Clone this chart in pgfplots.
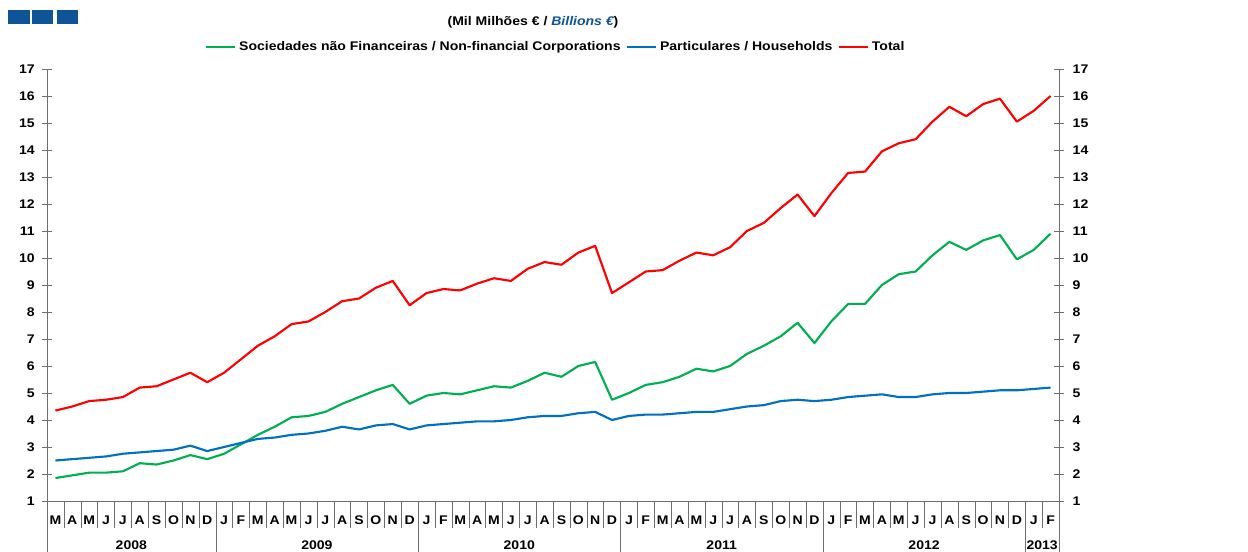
\documentclass[border=0pt]{standalone}
\usepackage{pgfplots}
\usepackage{pgfplotstable}
\pgfplotsset{compat=1.18}
\usepackage{fontspec}
\setmainfont{Liberation Sans}
\newfontfamily\wfont[FakeStretch=1.12]{Liberation Sans}
\definecolor{cgreen}{RGB}{0,176,80}
\definecolor{cblue}{RGB}{0,112,192}
\definecolor{cred}{RGB}{255,0,0}
\definecolor{clogo}{RGB}{14,84,150}
\definecolor{caxis}{RGB}{110,110,110}

\pgfplotstableread{
i nfc hh tot
0 1.85 2.50 4.35
1 1.95 2.55 4.50
2 2.05 2.60 4.70
3 2.05 2.65 4.75
4 2.10 2.75 4.85
5 2.40 2.80 5.20
6 2.35 2.85 5.25
7 2.50 2.90 5.50
8 2.70 3.05 5.75
9 2.55 2.85 5.40
10 2.75 3.00 5.75
11 3.10 3.15 6.25
12 3.45 3.30 6.75
13 3.75 3.35 7.10
14 4.10 3.45 7.55
15 4.15 3.50 7.65
16 4.30 3.60 8.00
17 4.60 3.75 8.40
18 4.85 3.65 8.50
19 5.10 3.80 8.90
20 5.30 3.85 9.15
21 4.60 3.65 8.25
22 4.90 3.80 8.70
23 5.00 3.85 8.85
24 4.95 3.90 8.80
25 5.10 3.95 9.05
26 5.25 3.95 9.25
27 5.20 4.00 9.15
28 5.45 4.10 9.60
29 5.75 4.15 9.85
30 5.60 4.15 9.75
31 6.00 4.25 10.20
32 6.15 4.30 10.45
33 4.75 4.00 8.70
34 5.00 4.15 9.10
35 5.30 4.20 9.50
36 5.40 4.20 9.55
37 5.60 4.25 9.90
38 5.90 4.30 10.20
39 5.80 4.30 10.10
40 6.00 4.40 10.40
41 6.45 4.50 11.00
42 6.75 4.55 11.30
43 7.10 4.70 11.85
44 7.60 4.75 12.35
45 6.85 4.70 11.55
46 7.65 4.75 12.40
47 8.30 4.85 13.15
48 8.30 4.90 13.20
49 9.00 4.95 13.95
50 9.40 4.85 14.25
51 9.50 4.85 14.40
52 10.10 4.95 15.05
53 10.60 5.00 15.60
54 10.30 5.00 15.25
55 10.65 5.05 15.70
56 10.85 5.10 15.90
57 9.95 5.10 15.05
58 10.30 5.15 15.45
59 10.90 5.20 16.00
}\datatable

\newcommand{\lfont}{\wfont\bfseries\fontsize{9.4}{11}\selectfont}

\begin{document}
\begin{tikzpicture}
\useasboundingbox (0pt,0pt) rectangle (936pt,414pt);
% logo
\fill[clogo] (6pt,396pt) rectangle (22.5pt,406.5pt);
\fill[clogo] (24pt,396pt) rectangle (39.75pt,406.5pt);
\fill[clogo] (42.75pt,396pt) rectangle (58.5pt,406.5pt);
\node[font=\lfont, inner sep=0pt] at (399.75pt,397.5pt) {(Mil Milhões € / \textcolor{clogo}{\itshape Billions €})};

\begin{axis}[
  at={(35.25pt,38.25pt)}, anchor=south west,
  scale only axis, width=759pt, height=324pt,
  xmin=-0.5, xmax=59.5, ymin=1, ymax=17,
  axis x line*=bottom, axis y line*=left,
  axis line style={draw=caxis, -},
  clip=false,
  ytick={1,...,17},
  ytick style={draw=caxis},
  tick align=center,
  major tick length=7.5pt,
  yticklabel style={font=\lfont, /pgf/number format/assume math mode=true, xshift=-2pt},
  xtick={0,...,59},
  xticklabels={M,A,M,J,J,A,S,O,N,D,J,F,M,A,M,J,J,A,S,O,N,D,J,F,M,A,M,J,J,A,S,O,N,D,J,F,M,A,M,J,J,A,S,O,N,D,J,F,M,A,M,J,J,A,S,O,N,D,J,F},
  xtick style={draw=none},
  xticklabel style={font=\lfont, anchor=center, yshift=-10.5pt},
  minor xtick={-0.5,0.5,...,59.5},
  minor x tick style={draw=caxis, yshift=-10pt},
  minor tick length=20pt,
  extra x ticks={-0.5,9.5,21.5,33.5,45.5,57.5,59.5},
  extra x tick labels={},
  extra x tick style={xtick style={draw=caxis, yshift=-19.5pt}, major tick length=39pt},
  legend style={at={(0.503,1.05)}, anchor=center, draw=none, fill=none, font=\lfont, legend columns=-1,
    /tikz/every even column/.append style={column sep=2pt}, inner sep=0pt},
  legend image code/.code={\draw[#1] (0pt,0pt) -- (22pt,0pt);},
  every axis plot/.append style={line width=1.6pt, line join=round},
]
\addplot[cgreen] table[x=i, y=nfc] {\datatable};
\addlegendentry{Sociedades não Financeiras / Non-financial Corporations}
\addplot[cblue] table[x=i, y=hh] {\datatable};
\addlegendentry{Particulares / Households}
\addplot[cred] table[x=i, y=tot] {\datatable};
\addlegendentry{Total}
\node[font=\lfont] at (axis cs:4.5,1) [yshift=-33.5pt] {2008};
\node[font=\lfont] at (axis cs:15.5,1) [yshift=-33.5pt] {2009};
\node[font=\lfont] at (axis cs:27.5,1) [yshift=-33.5pt] {2010};
\node[font=\lfont] at (axis cs:39.5,1) [yshift=-33.5pt] {2011};
\node[font=\lfont] at (axis cs:51.5,1) [yshift=-33.5pt] {2012};
\node[font=\lfont] at (axis cs:58.5,1) [yshift=-33.5pt] {2013};
\end{axis}
\begin{axis}[
  at={(35.25pt,38.25pt)}, anchor=south west,
  scale only axis, width=759pt, height=324pt,
  xmin=-0.5, xmax=59.5, ymin=1, ymax=17,
  axis x line=none, axis y line*=right,
  axis line style={draw=caxis, -},
  ytick={1,...,17},
  ytick style={draw=caxis},
  tick align=center,
  major tick length=7.5pt,
  yticklabel style={font=\lfont, /pgf/number format/assume math mode=true, xshift=3pt},
]
\end{axis}
\end{tikzpicture}
\end{document}
